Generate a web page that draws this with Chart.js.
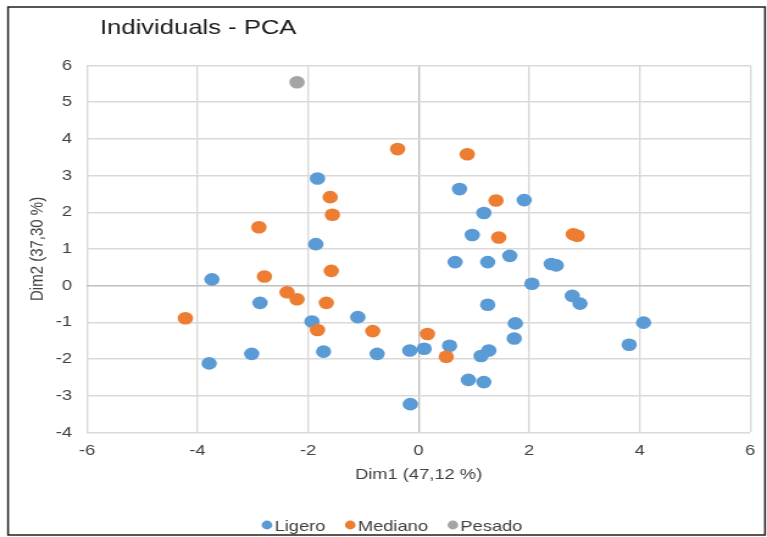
<!DOCTYPE html>
<html>
<head>
<meta charset="utf-8">
<script src="https://cdn.jsdelivr.net/npm/chart.js@4.4.1/dist/chart.umd.min.js"></script>
<style>
  html, body { margin: 0; padding: 0; background: #fff; overflow: hidden; }
  /* the chart is laid out narrower and widened horizontally */
  #wrap { position: absolute; left: 0; top: 0; width: 629px; height: 537px;
          transform: scaleX(1.2194); transform-origin: 0 0; }
</style>
</head>
<body>
<div id="wrap"><canvas id="c" width="629" height="537"></canvas></div>
<script>
const chartTitle = 'Individuals - PCA';
const xTitle = 'Dim1 (47,12 %)';
const yTitle = 'Dim2 (37,30 %)';
const seriesNames = ['Ligero', 'Mediano', 'Pesado'];
const seriesColors = ['#5B9BD5', '#ED7D31', '#A5A5A5'];

// [Dim1, Dim2] coordinates of each individual
const ligero = [
  [-1.83, 2.92], [-1.86, 1.13], [-3.74, 0.17], [-2.87, -0.47], [-1.93, -0.98],
  [-1.10, -0.86], [-3.79, -2.12], [-3.02, -1.86], [-1.72, -1.80], [-0.75, -1.86],
  [-0.16, -1.77], [0.10, -1.72], [-0.15, -3.23], [0.56, -1.64], [0.74, 2.63],
  [1.91, 2.33], [1.18, 1.98], [0.97, 1.38], [1.65, 0.81], [0.66, 0.64],
  [1.25, 0.64], [2.40, 0.59], [2.49, 0.55], [2.05, 0.05], [2.78, -0.28],
  [2.92, -0.49], [1.25, -0.52], [1.75, -1.03], [1.73, -1.44], [4.07, -1.01],
  [3.81, -1.61], [1.27, -1.77], [1.13, -1.92], [0.90, -2.57], [1.18, -2.63]
];
const mediano = [
  [-0.38, 3.72], [0.88, 3.58], [-1.60, 2.41], [-1.56, 1.93], [-2.89, 1.59],
  [1.40, 2.32], [1.45, 1.31], [2.80, 1.40], [2.87, 1.36], [-1.58, 0.40],
  [-2.79, 0.25], [-2.38, -0.18], [-2.20, -0.37], [-1.67, -0.47], [-4.22, -0.89],
  [-1.83, -1.21], [-0.83, -1.24], [0.16, -1.32], [0.50, -1.94]
];
const pesado = [[-2.20, 5.54]];

const xTicks = [-6, -4, -2, 0, 2, 4, 6];
const yTicks = [-4, -3, -2, -1, 0, 1, 2, 3, 4, 5, 6];

const seriesData = [ligero, mediano, pesado];
const FONT = "'Liberation Sans', Arial, sans-serif";
Chart.defaults.font.family = FONT;

const datasets = seriesNames.map((name, i) => ({
  label: name,
  data: seriesData[i].map(p => ({ x: p[0], y: p[1] })),
  backgroundColor: seriesColors[i],
  borderColor: seriesColors[i],
  borderWidth: 0,
  pointRadius: 6.3,
  pointHoverRadius: 6.3,
  order: seriesNames.length - 1 - i
}));

// white page, outer frame, title and legend
const decor = {
  id: 'decor',
  beforeDraw(chart) {
    const ctx = chart.ctx;
    ctx.save();
    ctx.fillStyle = '#fff';
    ctx.fillRect(0, 0, chart.width, chart.height);
    ctx.strokeStyle = '#1f1f1f';
    ctx.lineWidth = 1.5;
    ctx.strokeRect(6.6, 7, 620.8, 528);
    ctx.restore();
  },
  afterDraw(chart) {
    const ctx = chart.ctx;
    ctx.save();
    ctx.font = '21px ' + FONT;
    ctx.fillStyle = '#1a1a1a';
    ctx.textBaseline = 'alphabetic';
    ctx.textAlign = 'left';
    ctx.fillText(chartTitle, 82, 34);

    ctx.font = '15px ' + FONT;
    const r = 4.4, gapDot = 1.8, gapItem = 16;
    const widths = chart.data.datasets.map(d => ctx.measureText(d.label).width);
    let total = 0;
    widths.forEach((w, i) => { total += 2 * r + gapDot + w + (i ? gapItem : 0); });
    let x = 321.5 - total / 2;
    chart.data.datasets.forEach((d, i) => {
      ctx.fillStyle = d.backgroundColor;
      ctx.beginPath();
      ctx.arc(x + r, 525, r, 0, Math.PI * 2);
      ctx.fill();
      x += 2 * r + gapDot;
      ctx.fillStyle = '#404040';
      ctx.fillText(d.label, x, 530.5);
      x += widths[i] + gapItem;
    });
    ctx.restore();
  }
};

const gridColor = c => (c.tick && c.tick.value === 0) ? '#bfbfbf' : '#d9d9d9';

new Chart(document.getElementById('c'), {
  type: 'scatter',
  data: { datasets },
  options: {
    responsive: false,
    animation: false,
    devicePixelRatio: 1,
    events: [],
    layout: { padding: { left: 10, right: 13.3, top: 65.4, bottom: 44.6 } },
    plugins: {
      legend: { display: false },
      title: { display: false },
      tooltip: { enabled: false }
    },
    scales: {
      x: {
        type: 'linear',
        min: xTicks[0],
        max: xTicks[xTicks.length - 1],
        afterFit: s => { s.height = 60; },
        afterBuildTicks: s => { s.ticks = xTicks.map(v => ({ value: v })); },
        ticks: { stepSize: xTicks[1] - xTicks[0], padding: 9.6, color: '#404040', font: { size: 15 } },
        grid: { color: gridColor, lineWidth: 1.4, drawTicks: false },
        border: { display: false },
        title: { display: true, text: xTitle, color: '#404040', font: { size: 15 },
                 padding: { top: 0, bottom: 8.4 } }
      },
      y: {
        type: 'linear',
        min: yTicks[0],
        max: yTicks[yTicks.length - 1],
        afterFit: s => { s.width = 61.35; },
        afterBuildTicks: s => { s.ticks = yTicks.map(v => ({ value: v })); },
        ticks: { stepSize: yTicks[1] - yTicks[0], padding: 12.3, color: '#404040', font: { size: 15 } },
        grid: { color: gridColor, lineWidth: 1.4, drawTicks: false },
        border: { display: false },
        title: { display: true, text: yTitle, color: '#404040', font: { size: 15 },
                 padding: { top: 12.1, bottom: 0 } }
      }
    }
  },
  plugins: [decor]
});
</script>
</body>
</html>
